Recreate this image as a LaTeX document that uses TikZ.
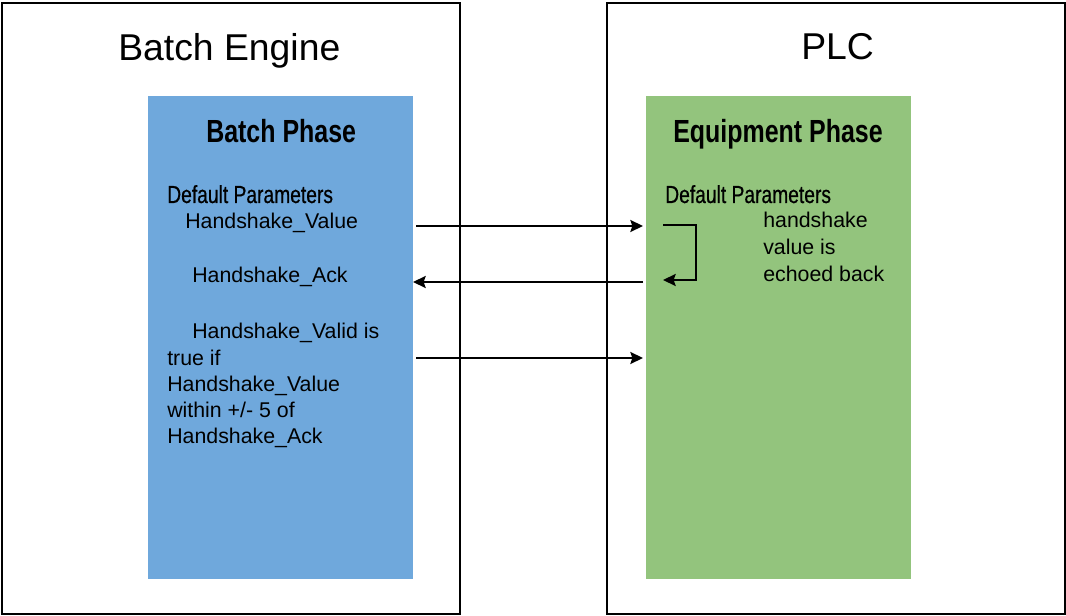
\documentclass[tikz,border=0pt]{standalone}
\usepackage{fontspec}
\setmainfont{Liberation Sans}
\newfontfamily\condfont[FakeStretch=0.78]{Liberation Sans}
\newfontfamily\condmedfont[FakeStretch=0.78,FakeBold=0.6]{Liberation Sans}
\usetikzlibrary{arrows.meta}
\definecolor{phaseblue}{HTML}{6FA8DC}
\definecolor{phasegreen}{HTML}{93C47D}
\begin{document}
\begin{tikzpicture}[x=0.75pt,y=-0.75pt,
  outer/.style={draw=black,line width=1.5pt,inner sep=0pt,minimum width=343.5pt,minimum height=458.25pt},
  panel/.style={draw=none,inner sep=0pt,minimum width=198.75pt,minimum height=362.25pt},
  title/.style={anchor=base west,inner sep=0pt,font=\fontsize{28}{34}\selectfont},
  phasetitle/.style={anchor=base west,inner sep=0pt,font=\condfont\bfseries\fontsize{24}{28}\selectfont},
  paramhead/.style={anchor=base west,inner sep=0pt,font=\condmedfont\fontsize{18.5}{22}\selectfont},
  body/.style={anchor=base west,inner sep=0pt,font=\fontsize{16}{19.9}\selectfont},
  signal/.style={line width=1.3pt,-{Stealth[length=9.5pt,width=9pt,inset=1.5pt]}}
]
\useasboundingbox (0,0) rectangle (1066,616);

% Outer system boxes
\node[outer] (engbox) at (231,308.5) {};
\node[outer] (plcbox) at (836,308.5) {};

% Phase panels
\node[panel,fill=phaseblue] (blue) at (280.5,337.5) {};
\node[panel,fill=phasegreen] (green) at (778.5,337.5) {};

% Headings
\node[title] (engine) at (118,61) {Batch Engine};
\node[title] (plc) at (801,60) {PLC};
\node[phasetitle] (bphase) at (206,143) {Batch Phase};
\node[phasetitle] (ephase) at (673,143) {Equipment Phase};
\node[paramhead] (bparams) at (167,203) {Default Parameters};
\node[paramhead] (eparams) at (665,203) {Default Parameters};

% Batch phase parameters
\node[body] (hval) at (185,229) {Handshake\_Value};
\node[body] (hack) at (192,283) {Handshake\_Ack};
\node[body] (valid1) at (192,338) {Handshake\_Valid is};
\node[body] (valid2) at (167,365) {true if};
\node[body] (valid3) at (167,391) {Handshake\_Value};
\node[body] (valid4) at (167,417) {within +/- 5 of};
\node[body] (valid5) at (167,443) {Handshake\_Ack};

% Equipment phase note
\node[body] (echo1) at (763,228) {handshake};
\node[body] (echo2) at (763,255) {value is};
\node[body] (echo3) at (763,282) {echoed back};

% Signal connector end points
\coordinate (s1) at (416,226);
\coordinate (t1) at (643,226);
\coordinate (s2) at (643,282);
\coordinate (t2) at (413,282);
\coordinate (s3) at (416,358);
\coordinate (t3) at (643,358);
\coordinate (l1) at (663,225);
\coordinate (l2) at (696,225);
\coordinate (l3) at (696,280);
\coordinate (l4) at (663,280);

\draw[signal] (s1) -- (t1);
\draw[signal] (s2) -- (t2);
\draw[signal] (s3) -- (t3);
\draw[signal] (l1) -- (l2) -- (l3) -- (l4);
\end{tikzpicture}
\end{document}
